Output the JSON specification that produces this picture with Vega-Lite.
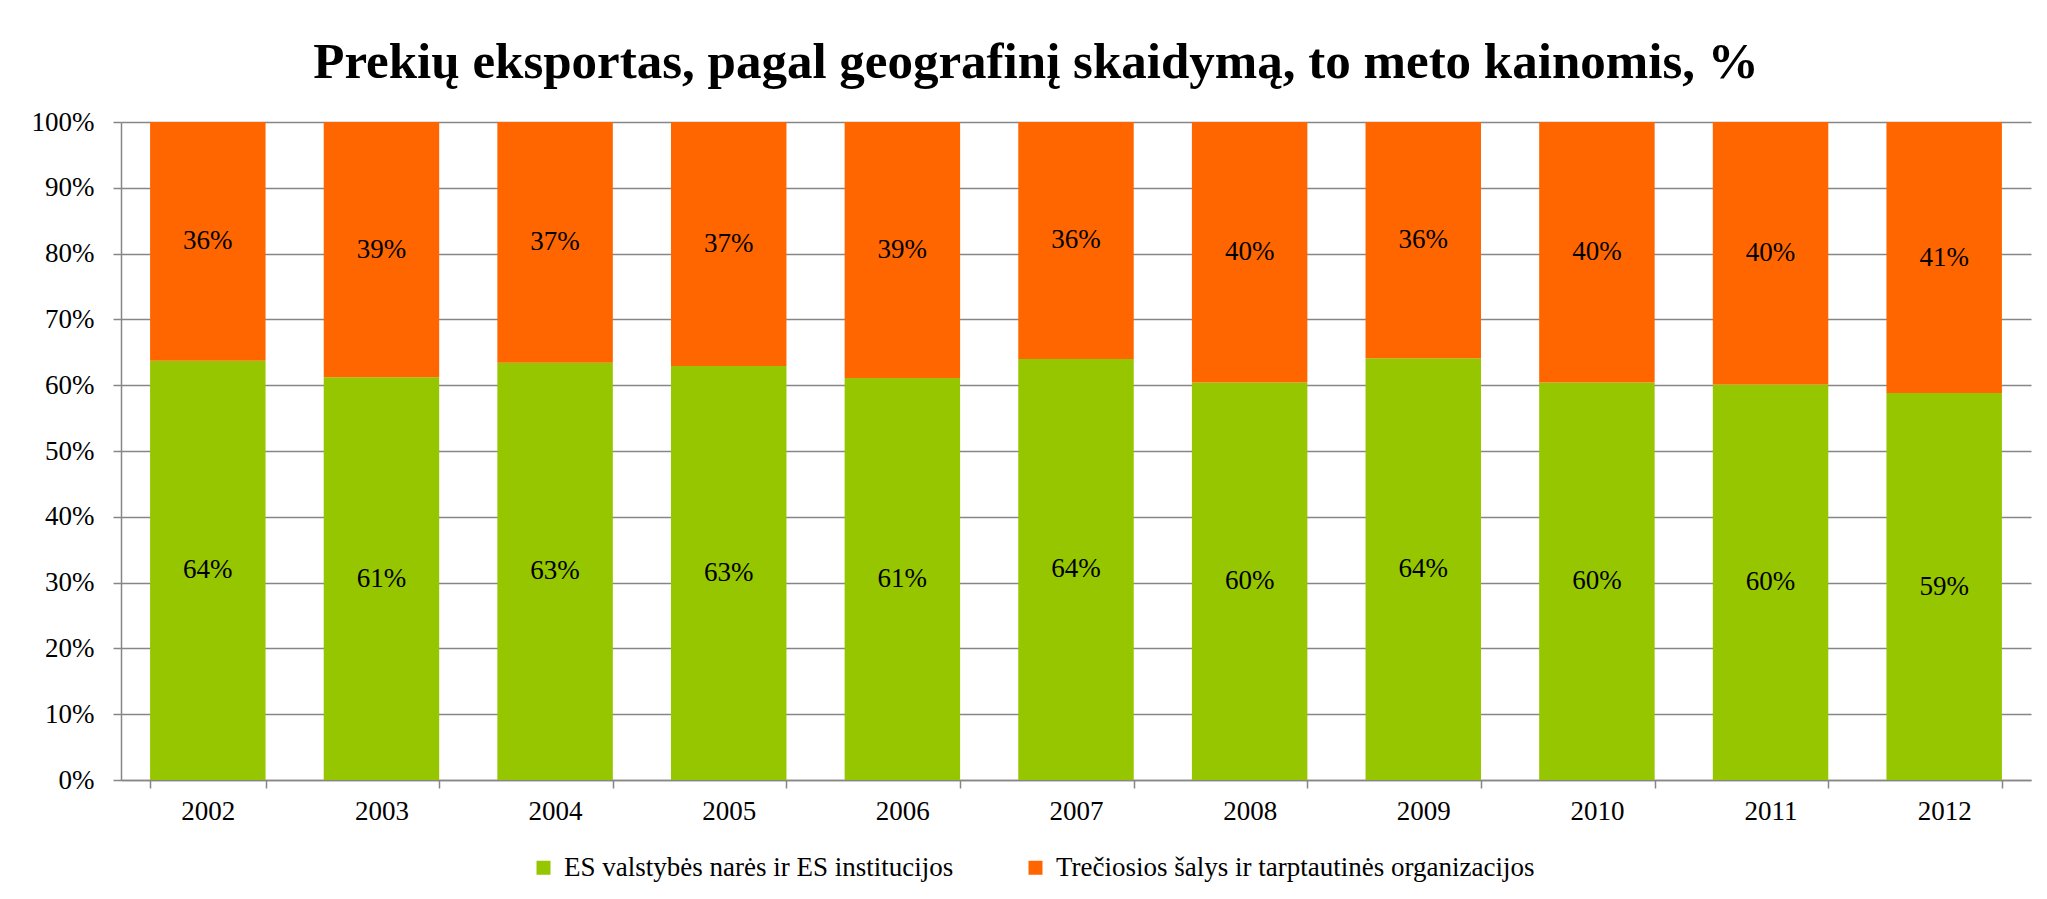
{
  "$schema": "https://vega.github.io/schema/vega-lite/v6.json",
  "autosize": {"type": "none"},
  "width": 1910,
  "height": 658,
  "padding": {"left": 121, "top": 122, "right": 16, "bottom": 119},
  "background": "white",
  "title": {
    "text": "Prekių eksportas, pagal geografinį skaidymą, to meto kainomis, %",
    "font": "Liberation Serif",
    "fontSize": 51,
    "fontWeight": "bold",
    "color": "black",
    "anchor": "middle",
    "frame": "group",
    "dx": -40,
    "offset": -21,
    "baseline": "alphabetic"
  },
  "data": {
    "values": [
      {"year": "2002", "group": "ES valstybės narės ir ES institucijos", "value": 0.637},
      {"year": "2002", "group": "Trečiosios šalys ir tarptautinės organizacijos", "value": 0.363},
      {"year": "2003", "group": "ES valstybės narės ir ES institucijos", "value": 0.612},
      {"year": "2003", "group": "Trečiosios šalys ir tarptautinės organizacijos", "value": 0.388},
      {"year": "2004", "group": "ES valstybės narės ir ES institucijos", "value": 0.634},
      {"year": "2004", "group": "Trečiosios šalys ir tarptautinės organizacijos", "value": 0.366},
      {"year": "2005", "group": "ES valstybės narės ir ES institucijos", "value": 0.629},
      {"year": "2005", "group": "Trečiosios šalys ir tarptautinės organizacijos", "value": 0.371},
      {"year": "2006", "group": "ES valstybės narės ir ES institucijos", "value": 0.611},
      {"year": "2006", "group": "Trečiosios šalys ir tarptautinės organizacijos", "value": 0.389},
      {"year": "2007", "group": "ES valstybės narės ir ES institucijos", "value": 0.640},
      {"year": "2007", "group": "Trečiosios šalys ir tarptautinės organizacijos", "value": 0.360},
      {"year": "2008", "group": "ES valstybės narės ir ES institucijos", "value": 0.604},
      {"year": "2008", "group": "Trečiosios šalys ir tarptautinės organizacijos", "value": 0.396},
      {"year": "2009", "group": "ES valstybės narės ir ES institucijos", "value": 0.641},
      {"year": "2009", "group": "Trečiosios šalys ir tarptautinės organizacijos", "value": 0.359},
      {"year": "2010", "group": "ES valstybės narės ir ES institucijos", "value": 0.604},
      {"year": "2010", "group": "Trečiosios šalys ir tarptautinės organizacijos", "value": 0.396},
      {"year": "2011", "group": "ES valstybės narės ir ES institucijos", "value": 0.601},
      {"year": "2011", "group": "Trečiosios šalys ir tarptautinės organizacijos", "value": 0.399},
      {"year": "2012", "group": "ES valstybės narės ir ES institucijos", "value": 0.588},
      {"year": "2012", "group": "Trečiosios šalys ir tarptautinės organizacijos", "value": 0.412}
    ]
  },
  "encoding": {
    "x": {
      "field": "year",
      "type": "ordinal",
      "scale": {"paddingInner": 0.335, "paddingOuter": 0.1675},
      "axis": {
        "title": null,
        "labelAngle": 0,
        "labelPadding": 10,
        "tickSize": 8,
        "tickBand": "extent",
        "grid": false
      }
    }
  },
  "layer": [
    {
      "mark": {"type": "bar"},
      "encoding": {
        "y": {
          "field": "value",
          "type": "quantitative",
          "stack": "zero",
          "scale": {"domain": [0, 1], "nice": false},
          "axis": {
            "title": null,
            "values": [0, 0.1, 0.2, 0.3, 0.4, 0.5, 0.6, 0.7, 0.8, 0.9, 1],
            "format": ".0%",
            "grid": true,
            "gridColor": "#868686",
            "gridWidth": 1.5,
            "tickSize": 8,
            "labelPadding": 19
          }
        },
        "order": {"field": "group", "sort": "ascending"},
        "color": {
          "field": "group",
          "type": "nominal",
          "scale": {
            "domain": ["ES valstybės narės ir ES institucijos", "Trečiosios šalys ir tarptautinės organizacijos"],
            "range": ["#95C600", "#FF6600"]
          },
          "legend": {
            "orient": "none",
            "legendX": 409,
            "legendY": 732,
            "direction": "horizontal",
            "title": null,
            "symbolType": "square",
            "symbolSize": 196,
            "symbolStrokeWidth": 0,
            "labelFont": "Liberation Serif",
            "labelFontSize": 27,
            "labelColor": "black",
            "labelLimit": 0,
            "labelOffset": 7,
            "columnPadding": 68,
            "padding": 0
          }
        }
      }
    },
    {
      "mark": {"type": "text", "font": "Liberation Serif", "fontSize": 27, "color": "black", "baseline": "middle"},
      "encoding": {
        "y": {"field": "value", "type": "quantitative", "stack": "zero", "bandPosition": 0.5},
        "order": {"field": "group", "sort": "ascending"},
        "detail": {"field": "group", "type": "nominal"},
        "text": {"field": "value", "type": "quantitative", "format": ".0%"}
      }
    }
  ],
  "config": {
    "view": {"stroke": null},
    "axis": {
      "labelFont": "Liberation Serif",
      "labelFontSize": 27,
      "labelColor": "black",
      "domainColor": "#868686",
      "domainWidth": 1.5,
      "tickColor": "#868686",
      "tickWidth": 1.5
    }
  }
}
